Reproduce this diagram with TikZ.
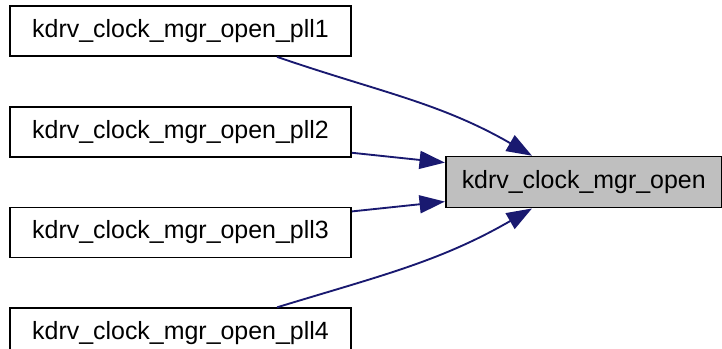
\documentclass[tikz,border=0pt]{standalone}
\usepackage{fontspec}
\setmainfont{Liberation Sans}
\usepackage{xcolor}
\usepackage{tikz}
\usetikzlibrary{arrows.meta, positioning, calc}

\definecolor{edgeblue}{HTML}{191970}
\definecolor{nodegray}{HTML}{BFBFBF}

\begin{document}
\begin{tikzpicture}[
      x=0.75pt, y=0.75pt,
      fn/.style={draw, rectangle, line width=1.3pt, fill=white,
                 minimum width=255.75pt, minimum height=37.5pt,
                 inner sep=0pt, font=\fontsize{18.7}{22}\selectfont},
      target/.style={fn, fill=nodegray, minimum width=207pt, minimum height=38.25pt},
      call/.style={-{Triangle[length=19pt, width=13.5pt, fill=edgeblue]}, line width=1.4pt, draw=edgeblue}
    ]
      \useasboundingbox (0,0) rectangle (722,-349);
      \node[fn] (pll1) at (180.5,-31) {kdrv\_clock\_mgr\_open\_pll1};
      \node[fn, below=36.75pt of pll1] (pll2) {kdrv\_clock\_mgr\_open\_pll2};
      \node[fn, below=36.75pt of pll2] (pll3) {kdrv\_clock\_mgr\_open\_pll3};
      \node[fn, below=36.75pt of pll3] (pll4) {kdrv\_clock\_mgr\_open\_pll4};
      \coordinate (mid) at ($(pll2.east)!0.5!(pll3.east)$);
      \node[target, right=69.75pt of mid] (open) {kdrv\_clock\_mgr\_open};
      \draw[call] (pll1.-15) to[out=-19, in=150] (open.153);
      \draw[call] (pll2.-7) -- (open.172);
      \draw[call] (pll3.7) -- (open.188);
      \draw[call] (pll4.15) to[out=17, in=-150] (open.207);
    \end{tikzpicture}
\end{document}
